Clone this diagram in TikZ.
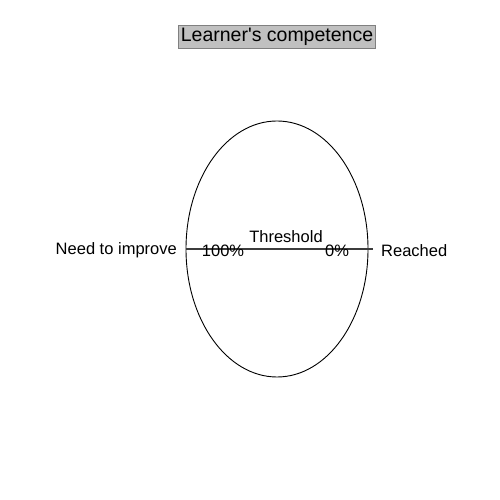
\documentclass[tikz,border=0pt]{standalone}
\usepackage{fontspec}
\setmainfont{Liberation Sans}
\usetikzlibrary{shapes.geometric}
\definecolor{boxgray}{RGB}{192,192,192}
\definecolor{linegray}{RGB}{60,60,60}

\begin{document}
\begin{tikzpicture}[x=1pt,y=1pt]
	\tikzset{label/.style={inner sep=0pt,font=\fontsize{16.5}{18}\selectfont}}
	
	% Fix the page size
	\useasboundingbox (0,0) rectangle (500,500);
	
	% Title box
	\node[draw=gray,fill=boxgray,line width=0.8pt,inner xsep=2pt,inner ysep=2.8pt,font=\fontsize{19.5}{22}\selectfont] (title) at (277,463) {Learner\textquotesingle s competence};
	
	% The ellipse
	\node[draw,ellipse,line width=0.9pt,inner sep=0pt,minimum width=182pt,minimum height=256pt] (comp) at (277,251) {};
	
	% Threshold line
	\coordinate (thrend) at (373,251);
	\draw[linegray,line width=1.3pt] (comp.west) -- (thrend);
	
	% Labels
	\node[label,anchor=east] (need) at (177,249.5) {Need to improve};
	\node[label,anchor=west] (reached) at (381,249.5) {Reached};
	\node[label] (thr) at (286,263.5) {Threshold};
	\node[label] (full) at (223,249.5) {100\%};
	\node[label] (none) at (337,249.5) {0\%};
	
\end{tikzpicture}
\end{document}
